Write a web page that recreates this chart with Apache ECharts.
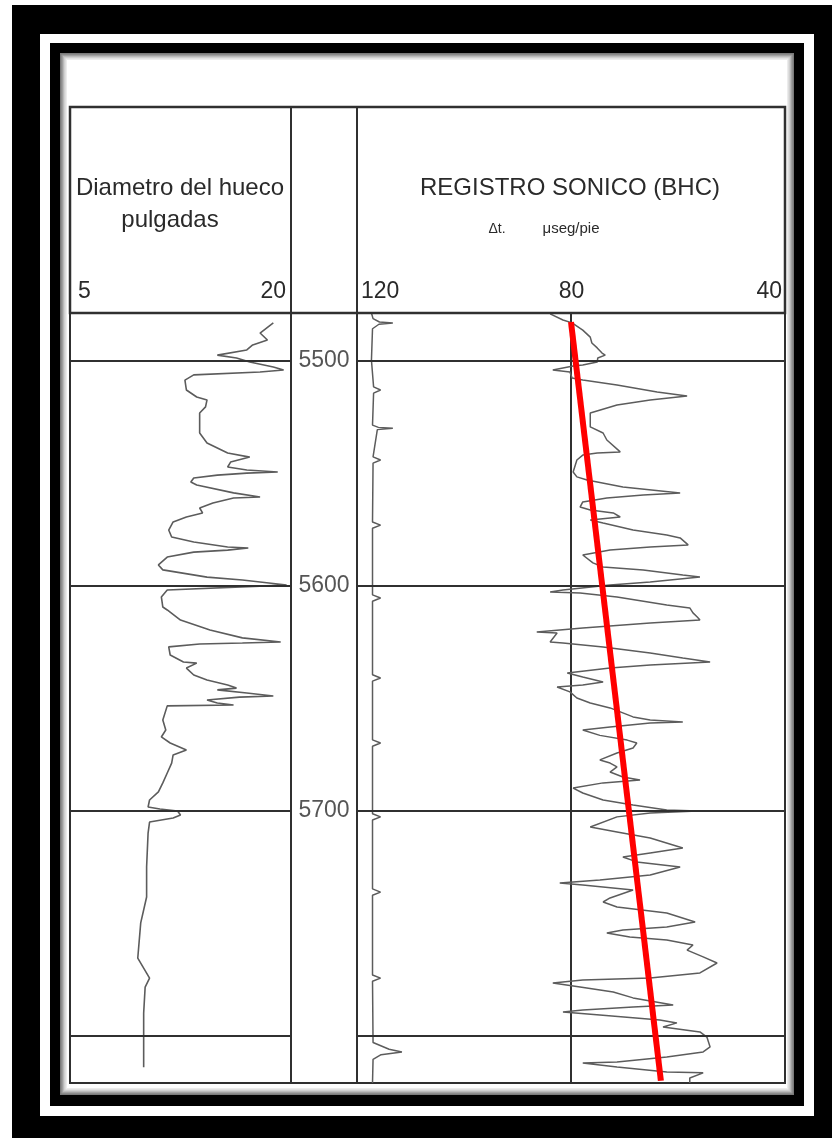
<!DOCTYPE html>
<html>
<head>
<meta charset="utf-8">
<script src="https://cdn.jsdelivr.net/npm/echarts@6/dist/echarts.min.js"></script>
<style>
  html, body { margin: 0; padding: 0; background: #fff; }
  #chart { width: 832px; height: 1138px; }
</style>
</head>
<body>
<div id="chart"></div>
<script>
// ---- Log data: [depth (ft), reading] ----
const depthLines = [5500, 5600, 5700, 5800];
const depthLabels = [5500, 5600, 5700];
const caliperTicks = [5, 20];
const sonicTicks = [120, 80, 40];

// Caliper, hole diameter in inches
const caliperLog = [
  [5483.4, 18.8], [5487.9, 17.9], [5491.0, 18.4], [5493.2, 17.4], [5495.4, 17.0],
  [5497.7, 15.0], [5499.0, 16.3], [5500.8, 17.2], [5503.0, 18.8], [5504.3, 19.5],
  [5505.2, 17.9], [5506.5, 13.4], [5508.8, 12.8], [5513.2, 12.9], [5516.3, 13.6],
  [5517.6, 14.3], [5520.7, 14.2], [5523.4, 13.8], [5532.3, 13.8], [5536.7, 14.3],
  [5541.2, 15.7], [5543.0, 17.2], [5545.2, 15.9], [5547.4, 15.7], [5548.7, 17.0],
  [5549.6, 19.1], [5550.1, 17.0], [5551.0, 15.0], [5552.3, 13.4], [5554.1, 13.2],
  [5555.4, 13.6], [5558.9, 16.1], [5560.7, 17.9], [5561.2, 16.1], [5563.4, 14.7],
  [5565.6, 13.8], [5567.8, 14.0], [5569.6, 12.9], [5571.8, 12.0], [5575.4, 11.7],
  [5578.5, 11.9], [5580.7, 13.4], [5582.9, 15.7], [5583.4, 17.1], [5584.3, 15.7],
  [5585.2, 13.4], [5587.4, 11.6], [5590.9, 11.0], [5593.1, 11.3], [5596.3, 14.3],
  [5597.6, 16.7], [5599.8, 19.7], [5600.3, 17.9], [5602.0, 11.6], [5605.1, 11.2],
  [5609.6, 11.3], [5610.9, 11.6], [5615.4, 12.5], [5619.8, 14.5], [5623.3, 16.7],
  [5625.1, 19.3], [5625.6, 16.7], [5626.0, 13.8], [5627.3, 11.7], [5630.9, 11.8],
  [5634.0, 12.7], [5634.5, 13.6], [5636.7, 12.9], [5639.8, 13.4], [5642.0, 14.3],
  [5644.2, 15.7], [5645.6, 16.3], [5646.4, 15.0], [5647.8, 17.0], [5649.1, 18.8],
  [5649.6, 16.5], [5650.9, 14.3], [5652.2, 15.0], [5653.1, 16.1], [5653.5, 11.6],
  [5659.8, 11.3], [5664.2, 11.5], [5667.3, 11.2], [5670.0, 11.8], [5673.1, 12.9],
  [5675.3, 12.0], [5678.9, 11.9], [5683.3, 11.6], [5687.7, 11.3], [5691.7, 11.0],
  [5695.3, 10.4], [5698.4, 10.3], [5699.3, 11.1], [5700.2, 12.3], [5702.0, 12.5],
  [5703.3, 12.0], [5705.1, 10.4], [5710.0, 10.3], [5725.1, 10.2], [5738.4, 10.2],
  [5749.9, 9.8], [5765.5, 9.6], [5774.4, 10.4], [5778.4, 10.1], [5790.0, 10.0],
  [5814.0, 10.0]
];

// Sonic transit time, microseconds per foot
const sonicLog = [
  [5479.4, 83.9], [5482.1, 81.5], [5483.4, 79.8], [5486.6, 77.8], [5489.7, 76.4],
  [5492.3, 76.1], [5494.5, 75.1], [5496.8, 74.2], [5497.7, 73.6], [5499.0, 75.0],
  [5500.8, 75.1], [5502.1, 77.8], [5502.5, 79.6], [5504.3, 83.4], [5505.2, 80.2],
  [5507.9, 79.8], [5508.8, 77.8], [5511.0, 71.4], [5514.1, 63.9], [5515.9, 58.3],
  [5517.6, 65.2], [5519.9, 71.4], [5523.4, 76.4], [5529.6, 76.4], [5532.3, 74.0],
  [5535.4, 73.3], [5540.7, 70.8], [5541.2, 75.1], [5542.1, 77.8], [5544.3, 78.9],
  [5549.6, 79.6], [5551.8, 78.9], [5553.2, 77.0], [5556.3, 70.3], [5559.0, 59.6],
  [5559.8, 66.5], [5561.2, 73.3], [5562.9, 77.8], [5565.2, 78.3], [5566.5, 76.4],
  [5567.8, 72.1], [5569.6, 70.8], [5570.9, 76.4], [5572.3, 74.0], [5575.4, 68.4],
  [5577.6, 62.1], [5578.9, 59.6], [5582.0, 58.1], [5582.9, 65.2], [5584.3, 72.7],
  [5586.5, 77.8], [5590.0, 75.9], [5591.8, 74.0], [5593.1, 66.5], [5595.4, 59.1],
  [5596.3, 55.9], [5598.5, 65.2], [5599.8, 72.7], [5602.0, 81.5], [5602.9, 83.9],
  [5603.4, 78.3], [5605.1, 71.4], [5608.7, 62.1], [5610.0, 57.8], [5612.2, 57.2],
  [5614.0, 56.4], [5615.4, 55.9], [5616.7, 65.2], [5618.9, 77.8], [5620.7, 86.4],
  [5621.1, 82.6], [5625.1, 83.9], [5625.6, 81.5], [5627.3, 74.0], [5630.0, 65.2],
  [5632.2, 59.1], [5634.0, 54.0], [5635.3, 65.2], [5636.7, 72.7], [5638.9, 80.7],
  [5640.7, 77.8], [5642.9, 74.0], [5644.2, 77.8], [5645.1, 82.6], [5647.3, 80.2],
  [5650.0, 78.9], [5652.2, 76.4], [5654.4, 72.7], [5658.4, 68.4], [5659.8, 65.2],
  [5660.7, 59.1], [5661.1, 65.2], [5662.9, 72.7], [5664.2, 77.8], [5666.6, 74.6],
  [5668.7, 69.5], [5670.0, 67.7], [5672.2, 68.4], [5674.4, 71.4], [5677.5, 74.6],
  [5678.9, 72.7], [5680.6, 71.4], [5682.9, 72.7], [5685.1, 70.3], [5686.4, 67.1],
  [5687.7, 74.0], [5690.0, 79.6], [5692.2, 77.8], [5695.3, 74.0], [5697.5, 68.4],
  [5699.7, 62.1], [5700.2, 56.4], [5701.1, 65.2], [5702.8, 71.4], [5707.3, 76.4],
  [5709.5, 71.4], [5712.2, 65.2], [5716.6, 59.1], [5718.8, 65.2], [5720.6, 70.3],
  [5722.8, 67.7], [5725.1, 59.6], [5728.6, 65.2], [5730.8, 74.6], [5732.2, 82.1],
  [5733.1, 77.8], [5735.3, 68.4], [5738.8, 72.7], [5740.6, 74.0], [5742.8, 71.4],
  [5745.5, 62.1], [5749.5, 56.8], [5751.7, 62.1], [5753.0, 70.3], [5754.4, 73.3],
  [5756.2, 69.0], [5757.5, 62.1], [5759.7, 57.2], [5762.0, 58.3], [5765.0, 55.3],
  [5767.7, 52.7], [5772.1, 55.9], [5774.4, 65.2], [5775.2, 77.8], [5776.6, 83.4],
  [5778.4, 78.3], [5780.6, 72.1], [5783.2, 68.4], [5786.4, 60.9], [5787.2, 68.4],
  [5788.6, 77.8], [5789.5, 81.5], [5790.8, 74.6], [5793.0, 63.4], [5794.3, 60.2],
  [5796.1, 62.8], [5798.3, 55.9], [5800.6, 54.6], [5805.0, 54.0], [5807.2, 55.3],
  [5809.4, 62.1], [5811.7, 71.4], [5812.1, 77.8], [5813.9, 71.4], [5816.1, 62.1],
  [5816.5, 55.3], [5818.8, 57.8], [5821.0, 57.8]
];

// Auxiliary trace riding near the left edge of the sonic track (same scale)
const auxLog = [
  [5479.0, 117.3], [5481.5, 117.0], [5483.0, 115.8], [5483.4, 113.3], [5484.0, 115.9],
  [5486.0, 117.1], [5500.0, 117.3], [5511.8, 116.9], [5513.2, 115.6], [5514.6, 116.9],
  [5528.8, 117.1], [5529.8, 116.0], [5530.2, 113.3], [5530.8, 116.2], [5542.9, 117.0],
  [5544.3, 115.6], [5545.7, 117.0], [5571.8, 117.1], [5573.2, 115.6], [5574.6, 117.1],
  [5604.2, 117.1], [5605.6, 115.6], [5607.0, 117.1], [5639.7, 117.1], [5641.1, 115.6],
  [5642.5, 117.1], [5668.6, 117.1], [5670.0, 115.6], [5671.4, 117.1], [5701.4, 117.1],
  [5702.8, 115.6], [5704.2, 117.1], [5734.8, 117.1], [5736.2, 115.6], [5737.6, 117.1],
  [5773.0, 117.1], [5774.4, 115.6], [5775.8, 117.1], [5803.0, 117.0], [5806.0, 114.0],
  [5807.2, 111.6], [5808.4, 115.5], [5810.5, 117.0], [5821.0, 117.1]
];

// Compaction trend drawn over the sonic curve
const trendLog = [[5483.0, 80.0], [5820.0, 63.2]];

// ---- Layout ----
const FONT = '"Liberation Sans", Arial, sans-serif';
const INK = '#2a2a2a';
const RULE = '#303030';
const CURVE = '#5c5c5c';
const DEPTH_MIN = 5479, DEPTH_MAX = 5821;
const X_LEFT = 70, X_CAL = 291, X_DEPTH = 357, X_RIGHT = 785;
const Y_HEAD = 107, Y_TOP = 313, Y_BOTTOM = 1083;
const trackH = Y_BOTTOM - Y_TOP;

const toXY = rows => rows.map(r => [r[1], r[0]]);

const chart = echarts.init(document.getElementById('chart'), null, { renderer: 'canvas' });

const frameRects = [];
// outer black mount, white rule, black rule
frameRects.push({ type: 'rect', z: -20, shape: { x: 12, y: 5, width: 820, height: 1133 }, style: { fill: '#000' }, silent: true });
frameRects.push({ type: 'rect', z: -19, shape: { x: 40, y: 34, width: 774, height: 1082 }, style: { fill: '#fff' }, silent: true });
frameRects.push({ type: 'rect', z: -18, shape: { x: 50, y: 43, width: 754, height: 1063 }, style: { fill: '#000' }, silent: true });
// paper with a soft grey bevel
const bevel = ['#7a7a7a', '#999', '#b9b9b9', '#d6d6d6', '#ececec', '#ffffff'];
bevel.forEach((c, i) => {
  const d = i * 1.4;
  frameRects.push({ type: 'rect', z: -17 + i, shape: { x: 60 + d, y: 53 + d, width: 734 - 2 * d, height: 1042 - 2 * d }, style: { fill: c }, silent: true });
});

const headerRules = [
  { type: 'rect', z: 10, shape: { x: X_LEFT, y: Y_HEAD, width: X_RIGHT - X_LEFT, height: Y_TOP - Y_HEAD }, style: { fill: null, stroke: RULE, lineWidth: 2.5 }, silent: true },
  { type: 'line', z: 10, shape: { x1: X_CAL, y1: Y_HEAD, x2: X_CAL, y2: Y_TOP }, style: { stroke: RULE, lineWidth: 2 }, silent: true },
  { type: 'line', z: 10, shape: { x1: X_DEPTH, y1: Y_HEAD, x2: X_DEPTH, y2: Y_TOP }, style: { stroke: RULE, lineWidth: 2 }, silent: true }
];

const headerText = (text, x, y, size, extra) => Object.assign({
  type: 'text', z: 11, silent: true,
  style: { text, x, y, fill: INK, font: size + 'px ' + FONT, align: 'center', verticalAlign: 'middle' }
}, extra || {});

const headerTexts = [
  headerText('Diametro del hueco', 180, 188, 24),
  headerText('pulgadas', 170, 220, 24),
  headerText('REGISTRO SONICO (BHC)', 570, 188, 24),
  headerText('\u0394t.', 497, 229, 14),
  headerText('\u03bcseg/pie', 571, 229, 15)
];

const splitMarks = {
  silent: true,
  symbol: ['none', 'none'],
  label: { show: false },
  lineStyle: { color: RULE, width: 2, type: 'solid' },
  data: depthLines.map(d => ({ yAxis: d }))
};

const tickLabel = {
  fontSize: 23, fontFamily: FONT, color: INK, margin: 10
};

chart.setOption({
  backgroundColor: '#fff',
  animation: false,
  graphic: [...frameRects, ...headerRules, ...headerTexts],
  grid: [
    { left: X_LEFT, top: Y_TOP, width: X_CAL - X_LEFT, height: trackH, show: true, borderColor: RULE, borderWidth: 2, backgroundColor: 'transparent' },
    { left: X_CAL, top: Y_TOP, width: X_DEPTH - X_CAL, height: trackH, show: true, borderColor: RULE, borderWidth: 2, backgroundColor: 'transparent' },
    { left: X_DEPTH, top: Y_TOP, width: X_RIGHT - X_DEPTH, height: trackH, show: true, borderColor: RULE, borderWidth: 2, backgroundColor: 'transparent' }
  ],
  xAxis: [
    {
      gridIndex: 0, type: 'value', position: 'top', min: 5, max: 20, interval: 15,
      axisLine: { show: false }, axisTick: { show: false }, splitLine: { show: false },
      axisLabel: Object.assign({}, tickLabel, {
        alignMinLabel: 'left', alignMaxLabel: 'right', padding: [0, 5, 0, 8],
        formatter: v => (caliperTicks.includes(v) ? String(v) : '')
      })
    },
    { gridIndex: 1, type: 'value', min: 0, max: 1, show: false },
    {
      gridIndex: 2, type: 'value', position: 'top', min: 40, max: 120, interval: 40, inverse: true,
      axisLine: { show: false }, axisTick: { show: false },
      splitLine: { show: true, lineStyle: { color: RULE, width: 2 } },
      axisLabel: Object.assign({}, tickLabel, {
        alignMinLabel: 'right', alignMaxLabel: 'left', padding: [0, 3, 0, 4],
        formatter: v => (sonicTicks.includes(v) ? String(v) : '')
      })
    }
  ],
  yAxis: [0, 1, 2].map(i => ({
    gridIndex: i, type: 'value', inverse: true, min: DEPTH_MIN, max: DEPTH_MAX,
    axisLine: { show: false }, axisTick: { show: false }, axisLabel: { show: false }, splitLine: { show: false }
  })),
  series: [
    {
      name: 'Diametro del hueco', type: 'line', xAxisIndex: 0, yAxisIndex: 0,
      data: toXY(caliperLog), showSymbol: false, z: 3,
      lineStyle: { color: CURVE, width: 1.6 },
      markLine: splitMarks
    },
    {
      name: 'Profundidad', type: 'scatter', xAxisIndex: 1, yAxisIndex: 1,
      data: depthLabels.map(d => [0.5, d]), symbolSize: 1,
      itemStyle: { color: 'transparent' },
      label: {
        show: true, position: 'inside', formatter: p => String(p.value[1]),
        fontSize: 23, fontFamily: FONT, color: INK
      }
    },
    {
      name: 'Traza auxiliar', type: 'line', xAxisIndex: 2, yAxisIndex: 2,
      data: toXY(auxLog), showSymbol: false, z: 3,
      lineStyle: { color: CURVE, width: 1.5 }
    },
    {
      name: 'Registro sonico', type: 'line', xAxisIndex: 2, yAxisIndex: 2,
      data: toXY(sonicLog), showSymbol: false, z: 3,
      lineStyle: { color: CURVE, width: 1.5 },
      markLine: splitMarks
    },
    {
      name: 'Tendencia', type: 'line', xAxisIndex: 2, yAxisIndex: 2,
      data: toXY(trendLog), showSymbol: false, z: 6,
      lineStyle: { color: '#ff0000', width: 6 }
    }
  ]
});
</script>
</body>
</html>
